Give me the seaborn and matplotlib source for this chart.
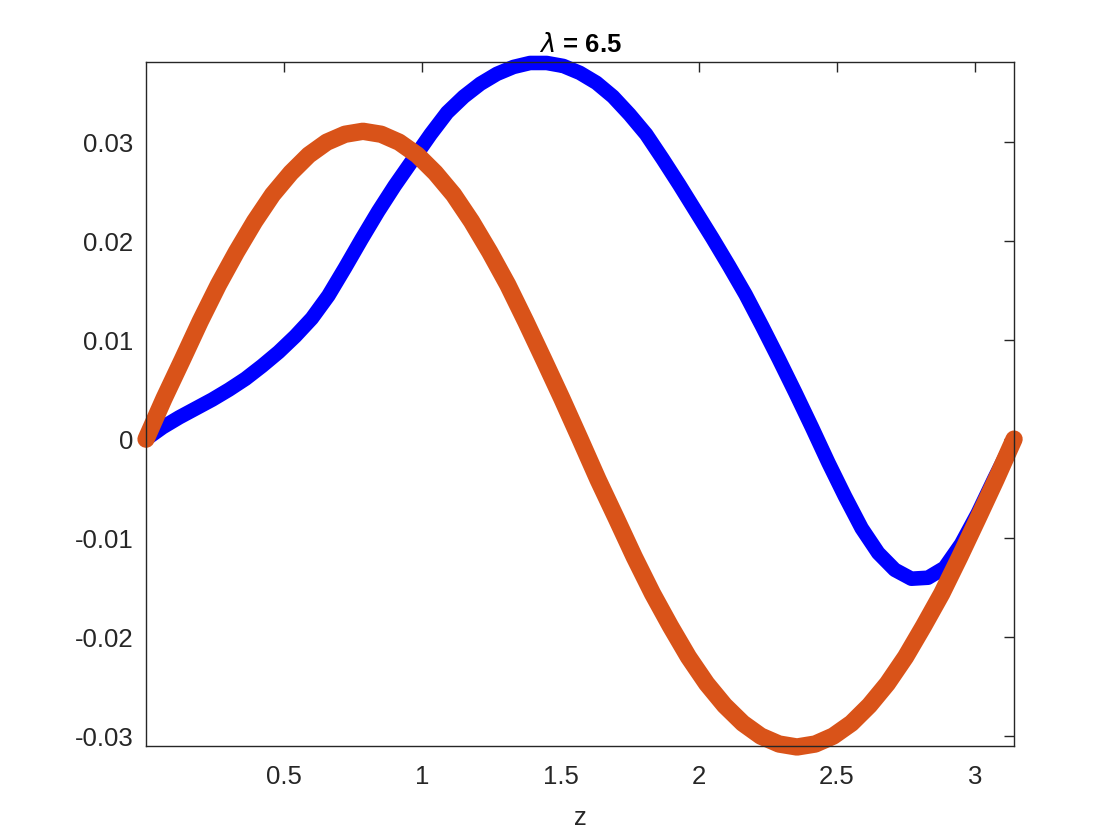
import numpy as np
import pandas as pd
import matplotlib
matplotlib.use("Agg")
import matplotlib.pyplot as plt
import seaborn as sns

# blue curve
z_blue = [0.00, 0.06, 0.12, 0.18, 0.24, 0.30, 0.36, 0.42, 0.48, 0.54,
          0.60, 0.66, 0.72, 0.78, 0.84, 0.90, 0.96, 1.03, 1.09, 1.15,
          1.21, 1.27, 1.33, 1.39, 1.45, 1.51, 1.57, 1.63, 1.69, 1.75,
          1.81, 1.87, 1.93, 1.99, 2.05, 2.11, 2.17, 2.23, 2.29, 2.35,
          2.41, 2.47, 2.53, 2.59, 2.65, 2.71, 2.77, 2.83, 2.89, 2.95,
          3.01, 3.07, 3.1416]
y_blue = [0.0, 0.0012, 0.0022, 0.0031, 0.0040, 0.0050, 0.0061, 0.0074, 0.0088, 0.0104,
          0.0122, 0.0145, 0.0173, 0.0202, 0.0230, 0.0256, 0.0280, 0.0308, 0.0330, 0.0346,
          0.0359, 0.0369, 0.0376, 0.0380, 0.0380, 0.0377, 0.0370, 0.0360, 0.0346, 0.0328,
          0.0308, 0.0283, 0.0257, 0.0230, 0.0203, 0.0175, 0.0146, 0.0114, 0.0081, 0.0047,
          0.0012, -0.0024, -0.0058, -0.0090, -0.0115, -0.0132, -0.0141, -0.0140, -0.0130, -0.0106,
          -0.0075, -0.0040, 0.0]

# orange curve
z_orange = [0.000, 0.065, 0.131, 0.196, 0.262, 0.327, 0.393, 0.458, 0.524, 0.589,
            0.654, 0.720, 0.785, 0.851, 0.916, 0.982, 1.047, 1.113, 1.178, 1.244,
            1.309, 1.374, 1.440, 1.505, 1.571, 1.636, 1.702, 1.767, 1.833, 1.898,
            1.963, 2.029, 2.094, 2.160, 2.225, 2.291, 2.356, 2.422, 2.487, 2.553,
            2.618, 2.683, 2.749, 2.814, 2.880, 2.945, 3.011, 3.076, 3.1416]
y_orange = [0.0, 0.0041, 0.0080, 0.0119, 0.0156, 0.0189, 0.0220, 0.0247, 0.0269, 0.0287,
            0.0300, 0.0308, 0.0311, 0.0308, 0.0300, 0.0287, 0.0269, 0.0247, 0.0220, 0.0189,
            0.0156, 0.0119, 0.0080, 0.0041, 0.0, -0.0041, -0.0080, -0.0119, -0.0156, -0.0189,
            -0.0220, -0.0247, -0.0269, -0.0287, -0.0300, -0.0308, -0.0311, -0.0308, -0.0300, -0.0287,
            -0.0269, -0.0247, -0.0220, -0.0189, -0.0156, -0.0119, -0.0080, -0.0041, 0.0]

x_ticks = [0.5, 1, 1.5, 2, 2.5, 3]
x_ticklabels = ["0.5", "1", "1.5", "2", "2.5", "3"]
y_ticks = [-0.03, -0.02, -0.01, 0, 0.01, 0.02, 0.03]
y_ticklabels = ["-0.03", "-0.02", "-0.01", "0", "0.01", "0.02", "0.03"]

sns.set_theme(style="white")
plt.rcParams["font.family"] = ["Liberation Sans", "DejaVu Sans"]
plt.rcParams["mathtext.fontset"] = "dejavusans"

blue_df = pd.DataFrame({"z": z_blue, "y": y_blue})
orange_df = pd.DataFrame({"z": z_orange, "y": y_orange})

fig = plt.figure(figsize=(11.2, 8.4), dpi=100)
ax = fig.add_axes([0.1304, 0.1119, 0.775, 0.8143])

sns.lineplot(data=blue_df, x="z", y="y", ax=ax, color="#0000ff", linewidth=10.5,
             solid_capstyle="round", solid_joinstyle="round", clip_on=False)
sns.lineplot(data=orange_df, x="z", y="y", ax=ax, color="#d95319", linewidth=12.5,
             solid_capstyle="round", solid_joinstyle="round", clip_on=False)

ax.set_xlim(0, np.pi)
ax.set_ylim(-0.0310, 0.0381)
ax.set_xticks(x_ticks)
ax.set_xticklabels(x_ticklabels)
ax.set_yticks(y_ticks)
ax.set_yticklabels(y_ticklabels)

ax.tick_params(direction="in", length=7, width=1, colors="#262626",
               labelsize=18.5, top=True, right=True)
ax.tick_params(axis="x", pad=14)
ax.tick_params(axis="y", pad=9)
for side in ax.spines.values():
    side.set_color("#262626")
    side.set_linewidth(1.0)

ax.set_xlabel("z", fontsize=18.5, color="#262626", labelpad=12)
ax.set_ylabel("")
ax.set_title(r"$\lambda$ = 6.5", fontsize=18.5, fontweight="bold", color="black", pad=7)

fig.savefig("out.png", dpi=100)
